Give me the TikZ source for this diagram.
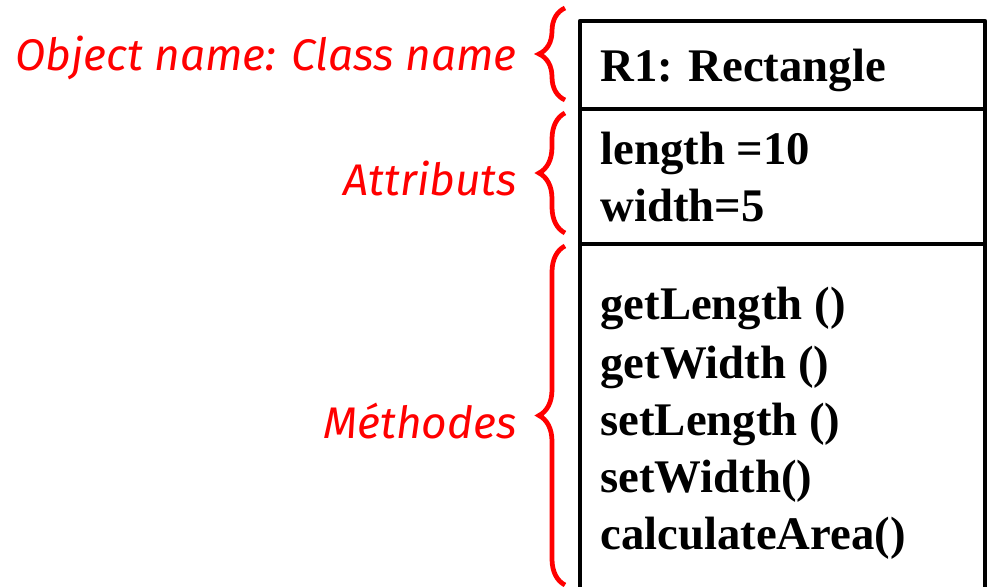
\documentclass[tikz,border=0pt]{standalone}
\usepackage{fontspec}
\setmainfont{Liberation Serif}
\newfontfamily\notefont{Fira Sans}
\usetikzlibrary{decorations.pathreplacing}
\definecolor{notered}{RGB}{255,0,0}

\begin{document}
\begin{tikzpicture}[x=0.02cm, y=-0.02cm,
  membre/.style={anchor=base west, inner sep=0pt, font=\fontsize{26.6}{32}\selectfont\bfseries},
  note/.style={anchor=east, inner sep=0pt, text=notered, font=\notefont\itshape\fontsize{25.2}{30}\selectfont},
  accolade/.style={draw=notered, line width=2.7pt, decorate, decoration={brace, amplitude=0.52cm}}]

\useasboundingbox (0,0) rectangle (997,587);

% Cadre de l'objet
\coordinate (hautG) at (580,21);
\coordinate (hautD) at (985,21);
\coordinate (basG) at (580,600);
\coordinate (basD) at (985,600);
\coordinate (sep1G) at (580,109);
\coordinate (sep1D) at (985,109);
\coordinate (sep2G) at (580,244);
\coordinate (sep2D) at (985,244);
\draw[line width=2.4pt, line join=round] (basG) -- (hautG) -- (hautD) -- (basD);
\draw[line width=2.4pt] (sep1G) -- (sep1D);
\draw[line width=2.4pt] (sep2G) -- (sep2D);

% Contenu
\node[membre] (nom) at (600,82) {R1: Rectangle};
\node[membre] (att1) at (600,165) {length =10};
\node[membre] (att2) at (600,222) {width=5};
\node[membre] (met1) at (600,320) {getLength ()};
\node[membre] (met2) at (600,378) {getWidth ()};
\node[membre] (met3) at (600,435) {setLength ()};
\node[membre] (met4) at (600,492) {setWidth()};
\node[membre] (met5) at (600,549) {calculateArea()};

% Accolades
\coordinate (acc1b) at (565,100);
\coordinate (acc1h) at (565,8);
\coordinate (acc2b) at (565,233);
\coordinate (acc2h) at (565,113);
\coordinate (acc3b) at (565,585);
\coordinate (acc3h) at (565,246);
\draw[accolade] (acc1b) -- (acc1h);
\draw[accolade] (acc2b) -- (acc2h);
\draw[accolade] (acc3b) -- (acc3h);

% Legendes
\node[note] (lnom) at (517,58) {Object name: Class name};
\node[note] (latt) at (517,179) {Attributs};
\node[note] (lmet) at (517,421) {Méthodes};

\end{tikzpicture}
\end{document}
